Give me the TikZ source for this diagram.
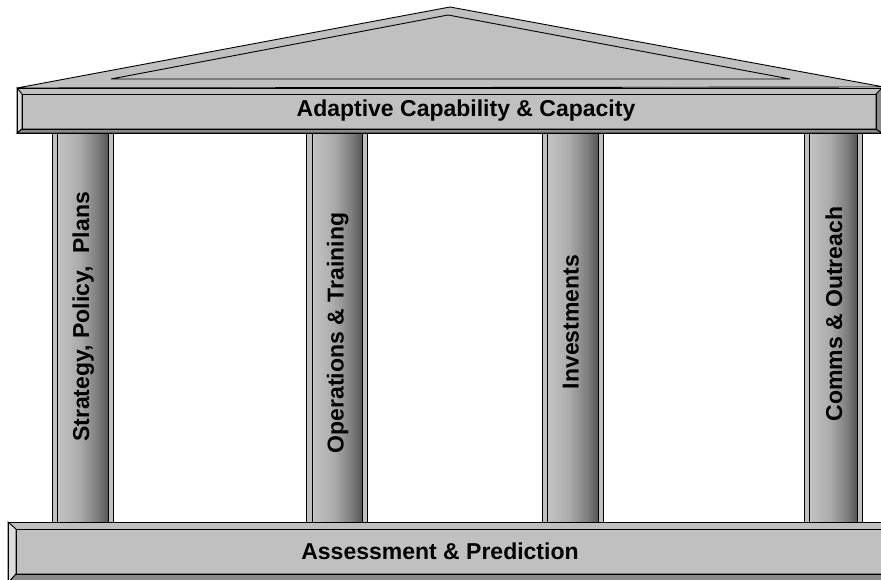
\documentclass[tikz,border=0pt]{standalone}
\usepackage{fontspec}
\setmainfont{Liberation Sans}

\definecolor{stone}{HTML}{C0C0C0}
\definecolor{stonelight}{HTML}{DCDCDC}
\definecolor{stonedark}{HTML}{8A8A8A}
\definecolor{shaftlight}{HTML}{C4C4C4}
\definecolor{shaftmid}{HTML}{ABABAB}
\definecolor{shaftdeep}{HTML}{7C7C7C}
\definecolor{shaftdark}{HTML}{555555}

\pgfdeclarehorizontalshading{shaftshade}{100bp}{color(0bp)=(shaftlight); color(25bp)=(shaftlight); color(47bp)=(shaftmid); color(65bp)=(shaftdeep); color(75bp)=(shaftdark); color(100bp)=(shaftdark)}

\begin{document}
\begin{tikzpicture}[x=1pt,y=-1pt,
  edge/.style={draw=black,line width=0.9pt},
  shaft/.style={edge,shade,shading=shaftshade},
  beamtext/.style={font=\fontsize{23}{27}\selectfont\bfseries,inner sep=0pt,anchor=base},
  pillartext/.style={beamtext,rotate=90}]
  \useasboundingbox (0,0) rectangle (881,580);
  % roof
  \draw[edge,fill=stone] (17,88) -- (450,7) -- (884,87) -- cycle;
  \draw[edge] (111,79) -- (448,15) -- (790,79) -- cycle;
  % pillars
  \draw[edge,fill=stone] (52,133) rectangle (113,522);
  \draw[shaft] (57,133) rectangle (108,522);
  \draw[edge,fill=stone] (306,133) rectangle (367,522);
  \draw[shaft] (312,133) rectangle (362,522);
  \draw[edge,fill=stone] (542,133) rectangle (603,522);
  \draw[shaft] (547,133) rectangle (598,522);
  \draw[edge,fill=stone] (804,133) rectangle (862,522);
  \draw[shaft] (809,133) rectangle (857,522);
  % top beam
  \fill[stone] (17,88) rectangle (882,133);
  \filldraw[edge,fill=stonelight] (17,88) -- (22,94) -- (22,129) -- (17,133) -- cycle;
  \filldraw[edge,fill=stonedark] (17,133) -- (22,129) -- (876,129) -- (882,133) -- cycle;
  \filldraw[edge,fill=stonedark] (882,88) -- (876,94) -- (876,129) -- (882,133) -- cycle;
  \draw[edge] (17,88) rectangle (882,133);
  \draw[edge] (22,94) rectangle (876,129);
  % bottom beam
  \fill[stone] (8,522) rectangle (890,583);
  \filldraw[edge,fill=stonelight] (8,522) -- (16,529) -- (16,574) -- (8,583) -- cycle;
  \filldraw[edge,fill=stonedark] (8,583) -- (16,574) -- (890,574) -- (890,583) -- cycle;
  \draw[edge] (8,522) rectangle (890,583);
  \draw[edge] (16,529) rectangle (890,574);
  % labels
  \node[beamtext] (capability) at (466,117) {Adaptive Capability \& Capacity};
  \node[beamtext] (assessment) at (440,559) {Assessment \& Prediction};
  \node[pillartext] (strategy) at (89,317) {Strategy, Policy,\ \ Plans};
  \node[pillartext] (operations) at (343.5,333) {Operations \& Training};
  \node[pillartext] (investments) at (578.5,322) {Investments};
  \node[pillartext] (comms) at (842,314) {Comms \& Outreach};
\end{tikzpicture}
\end{document}
